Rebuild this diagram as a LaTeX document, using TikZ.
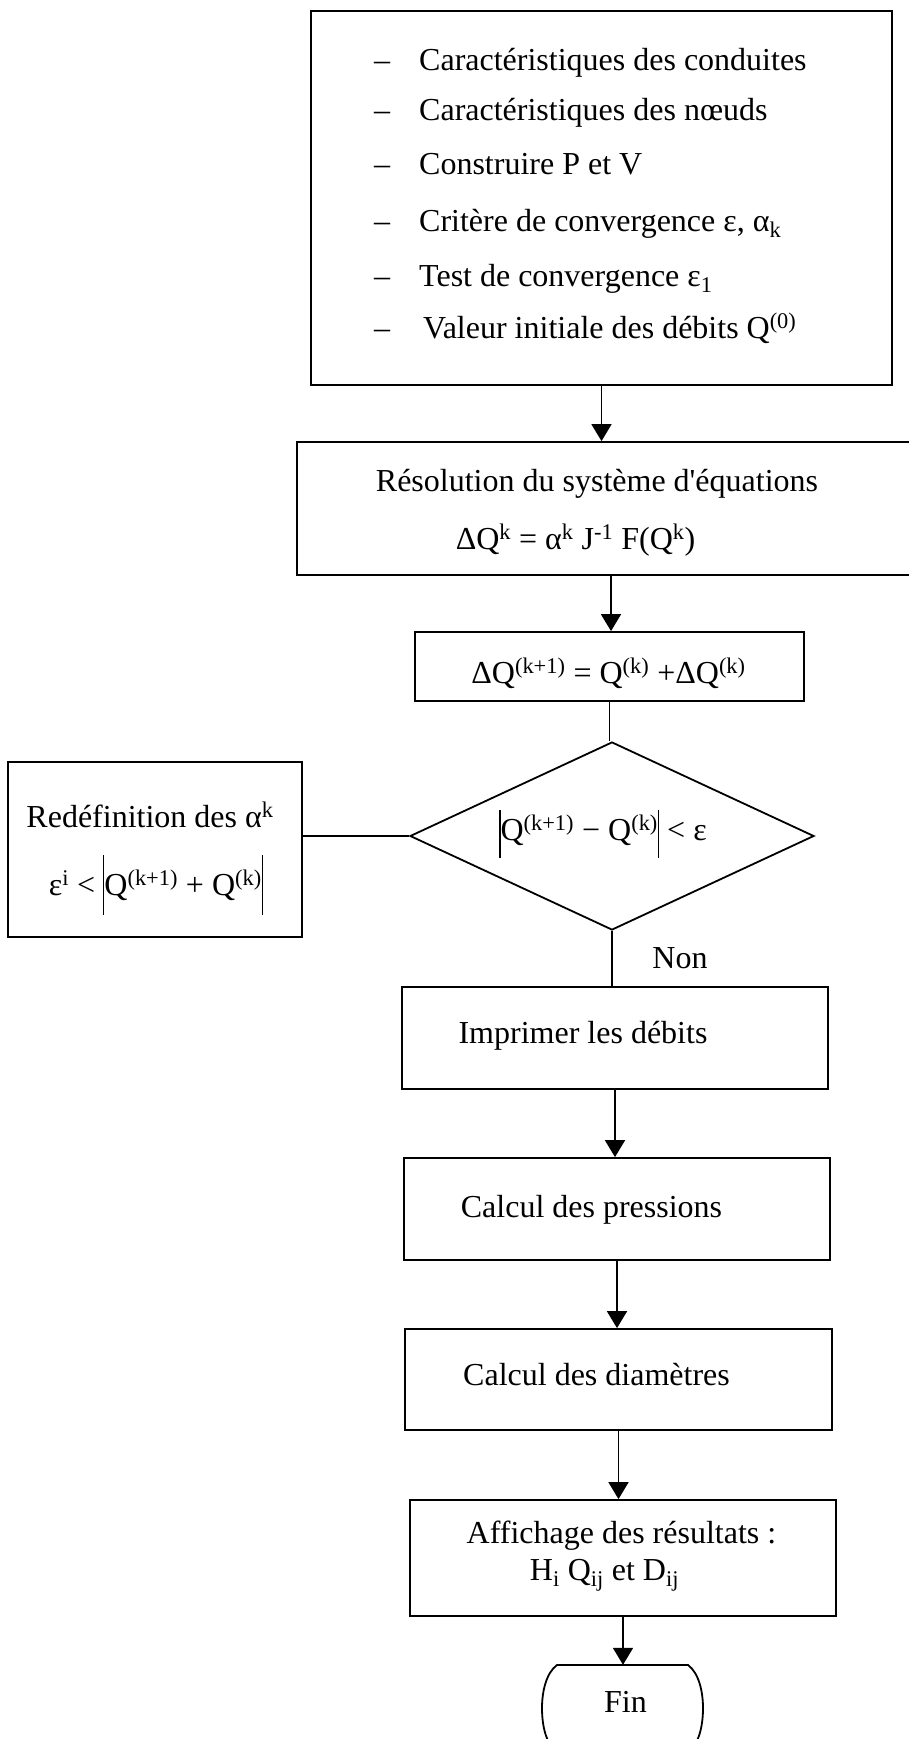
\documentclass[tikz,border=0pt]{standalone}
\usepackage{fontspec}
\setmainfont{Liberation Serif}
\usetikzlibrary{arrows.meta,shapes.geometric}
\newcommand\absbar[2]{\rule[-#1pt]{1.3pt}{#2pt}}
\tikzset{
  every node/.style={font=\fontsize{32}{38}\selectfont},
  box/.style={draw, line width=1.8pt, rectangle, inner sep=0pt},
  txt/.style={inner sep=0pt, anchor=base},
  ltxt/.style={inner sep=0pt, anchor=base west},
  arr/.style={line width=1.8pt, -{Triangle[length=17pt,width=20pt]}},
  conn/.style={line width=1.8pt},
}
\begin{document}
\begin{tikzpicture}[x=1pt,y=-1pt]
\path[use as bounding box, clip] (0,0) rectangle (909,1739);
\fill[white] (0,0) rectangle (909,1739);

% boxes
\node[box, minimum width=581pt, minimum height=374pt] (b1) at (601.5,198) {};
\node[box, minimum width=628pt, minimum height=133pt] (b2) at (611,508.5) {};
\node[box, minimum width=389pt, minimum height=69pt] (b3) at (609.5,666.5) {};
\node[draw, line width=1.8pt, diamond, inner sep=0pt, minimum width=404pt, minimum height=188pt] (dia) at (612,836) {};
\node[box, minimum width=294pt, minimum height=175pt] (redef) at (155,849.5) {};
\node[box, minimum width=426pt, minimum height=102pt] (b4) at (615,1038) {};
\node[box, minimum width=426pt, minimum height=102pt] (b5) at (617,1209) {};
\node[box, minimum width=427pt, minimum height=101pt] (b6) at (618.5,1379.5) {};
\node[box, minimum width=426pt, minimum height=116pt] (b7) at (623,1558) {};
\node[inner sep=0pt, minimum width=161pt, minimum height=87pt] (fin) at (622.5,1708.5) {};
\draw[conn] (557,1665) -- (688,1665)
  .. controls (699,1673) and (703,1692) .. (703,1708)
  .. controls (703,1726) and (699,1744) .. (688,1752)
  -- (557,1752)
  .. controls (546,1744) and (542,1726) .. (542,1708)
  .. controls (542,1692) and (546,1673) .. (557,1665) -- cycle;

% box 1 text
\foreach \y/\t [count=\i] in {71/{Caractéristiques des conduites},
  121/{Caractéristiques des nœuds},
  175/{Construire P et V},
  231/{Critère de convergence ε, α\textsubscript{k}},
  286/{Test de convergence ε\textsubscript{1}}}{
  \node[ltxt] (d\i) at (374,\y) {–};
  \node[ltxt] (l\i) at (419,\y) {\t};
}
\node[ltxt] (d6) at (374,338) {–};
\node[ltxt] (l6) at (423,338) {Valeur initiale des débits Q\textsuperscript{(0)}};

% other texts
\node[txt] (t2a) at (597,491) {Résolution du système d\textquotesingle équations};
\node[txt] (t2b) at (575.5,549) {ΔQ\textsuperscript{k} = α\textsuperscript{k} J\textsuperscript{-1} F(Q\textsuperscript{k})};
\node[txt] (t3) at (608.5,683) {ΔQ\textsuperscript{(k+1)} = Q\textsuperscript{(k)} +ΔQ\textsuperscript{(k)}};
\node[txt] (td) at (603,840) {\absbar{18}{48}Q\textsuperscript{(k+1)} − Q\textsuperscript{(k)}\absbar{18}{48} < ε};
\node[txt] (tr1) at (150,827) {Redéfinition des α\textsuperscript{k}};
\node[txt] (tr2) at (156,895) {ε\textsuperscript{i} < \absbar{20}{60}Q\textsuperscript{(k+1)} + Q\textsuperscript{(k)}\absbar{20}{60}};
\node[txt] (non) at (680,968) {Non};
\node[txt] (t4) at (583,1043) {Imprimer les débits};
\node[txt] (t5) at (591.5,1217) {Calcul des pressions};
\node[txt] (t6) at (596.5,1385) {Calcul des diamètres};
\node[txt] (t7a) at (621.5,1543) {Affichage des résultats :};
\node[txt] (t7b) at (604.5,1580) {H\textsubscript{i} Q\textsubscript{ij} et D\textsubscript{ij}};
\node[txt] (tf) at (625.5,1712) {Fin};

% connectors
\draw[arr] (b1.south) -- (b1.south |- b2.north);
\draw[arr] (b2.south) -- (b2.south |- b3.north);
\draw[conn] (b3.south) -- (b3.south |- dia.north);
\draw[conn] (dia.west) -- (dia.west -| redef.east);
\draw[conn] (dia.south) -- (dia.south |- b4.north);
\draw[arr] (b4.south) -- (b4.south |- b5.north);
\draw[arr] (b5.south) -- (b5.south |- b6.north);
\draw[arr] (b6.south) -- (b6.south |- b7.north);
\draw[arr] (b7.south) -- (b7.south |- fin.north);
\end{tikzpicture}
\end{document}
